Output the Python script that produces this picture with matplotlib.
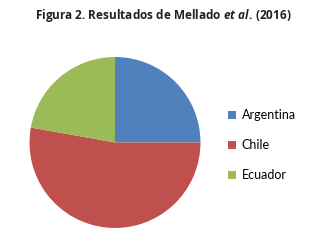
import numpy as np
import matplotlib.pyplot as plt
from matplotlib.patches import Patch

# datos (porcentajes)
paises = ["Argentina", "Chile", "Ecuador"]
valores = [25.0, 52.8, 22.2]
colores = ["#4F81BD", "#C0504D", "#9BBB59"]

plt.rcParams["mathtext.fontset"] = "custom"
plt.rcParams["mathtext.it"] = "Open Sans:italic:bold"
plt.rcParams["mathtext.rm"] = "Open Sans:bold"

fig = plt.figure(figsize=(3.26, 2.42), dpi=100)
ax = fig.add_axes([0.0905, 0.0579, 0.5245, 0.7066])
ax.pie(valores, colors=colores, startangle=90, counterclock=False,
       radius=1, wedgeprops=dict(linewidth=0))
ax.set_xlim(-1, 1)
ax.set_ylim(-1, 1)

fig.text(0.5, 0.935, "Figura 2. Resultados de Mellado $\\it{et}$ $\\it{al.}\\,\\mathrm{(2016)}$",
         ha="center", va="center", fontsize=8.5, fontweight="bold",
         family="Open Sans", color="#231f20")

handles = [Patch(facecolor=c, edgecolor="none") for c in colores]
leg = fig.legend(handles, paises, loc="center left", bbox_to_anchor=(0.665, 0.4),
                 frameon=False, handlelength=0.65, handleheight=0.65,
                 handletextpad=0.45, labelspacing=1.45,
                 prop={"family": "Lato", "size": 9})

plt.savefig("out.png", dpi=100)
plt.close()
